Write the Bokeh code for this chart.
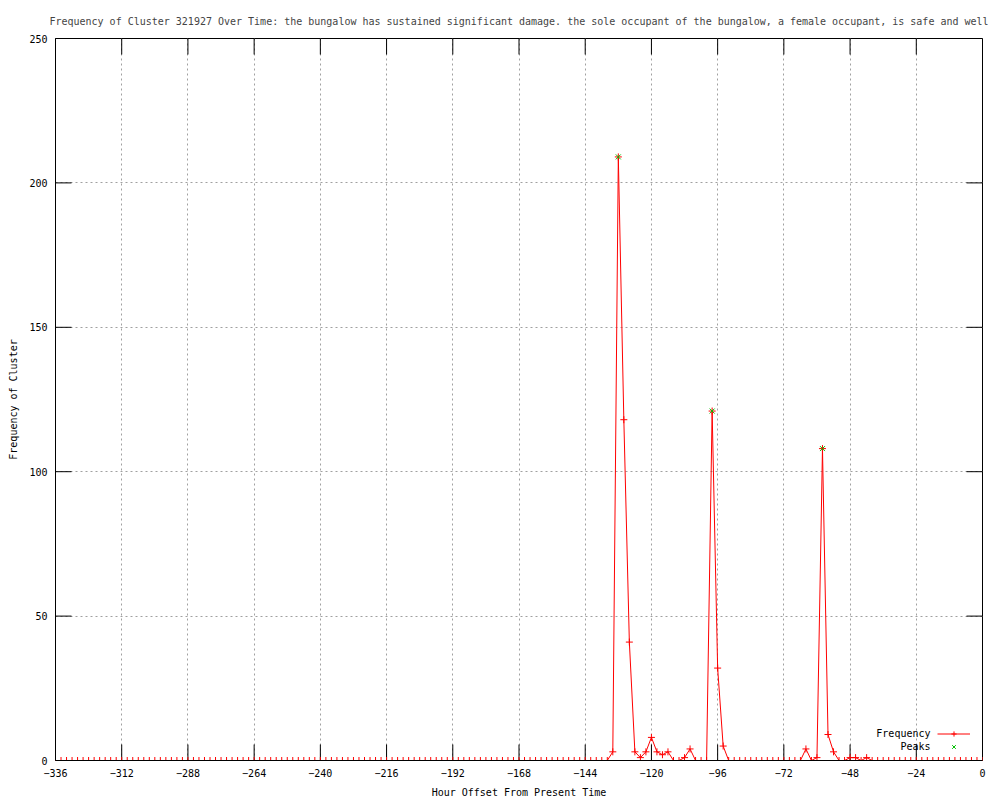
from bokeh.plotting import figure
from bokeh.models import FixedTicker, Legend, LegendItem, Label
from bokeh.embed import file_html
from bokeh.resources import INLINE

# ---- data ----
hours = list(range(-336, 2, 2))  # sampling grid: every 2 hours
freq = [
    0, 0, 0, 0, 0, 0, 0, 0, 0, 0, 0, 0,          # -336 .. -314
    0, 0, 0, 0, 0, 0, 0, 0, 0, 0, 0, 0,          # -312 .. -290
    0, 0, 0, 0, 0, 0, 0, 0, 0, 0, 0, 0,          # -288 .. -266
    0, 0, 0, 0, 0, 0, 0, 0, 0, 0, 0, 0,          # -264 .. -242
    0, 0, 0, 0, 0, 0, 0, 0, 0, 0, 0, 0,          # -240 .. -218
    0, 0, 0, 0, 0, 0, 0, 0, 0, 0, 0, 0,          # -216 .. -194
    0, 0, 0, 0, 0, 0, 0, 0, 0, 0, 0, 0,          # -192 .. -170
    0, 0, 0, 0, 0, 0, 0, 0, 0, 0, 0, 0,          # -168 .. -146
    0, 0, 0, 0, 0, 3, 209, 118, 41, 3, 1, 3,     # -144 .. -122
    8, 3, 2, 3, 0, 0, 1, 4, 0, 0, 0, 121,        # -120 .. -98
    32, 5, 0, 0, 0, 0, 0, 0, 0, 0, 0, 0,         # -96 .. -74
    0, 0, 0, 0, 4, 0, 1, 108, 9, 3, 0, 0,        # -72 .. -50
    1, 1, 0, 1, 0, 0, 0, 0, 0, 0, 0, 0,          # -48 .. -26
    0, 0, 0, 0, 0, 0, 0, 0, 0, 0, 0, 0,          # -24 .. -2
    0,                                           # 0
]
peak_hours = [-132, -98, -58]
peak_freq = [209, 121, 108]

x_ticks = [-336, -312, -288, -264, -240, -216, -192, -168, -144, -120, -96, -72, -48, -24, 0]
y_ticks = [0, 50, 100, 150, 200, 250]

title_text = ("Frequency of Cluster 321927 Over Time: the bungalow has sustained significant damage. "
              "the sole occupant of the bungalow, a female occupant, is safe and well")
legend_labels = ["Frequency", "Peaks"]

FONT = "DejaVu Sans Mono"
FS = "10px"
X0, X1 = -336, 0
Y0, Y1 = 0, 250
BL, BR, BT, BB = 55, 18, 38, 40
W, H = 1000, 800
FRAME_W = W - BL - BR
FRAME_H = H - BT - BB
TICK_PX = 16

p = figure(width=W, height=H, x_range=(X0, X1), y_range=(Y0, Y1),
           output_backend="svg", toolbar_location=None,
           min_border_left=BL, min_border_right=BR, min_border_top=BT, min_border_bottom=BB,
           x_axis_label="Hour Offset From Present Time", y_axis_label="Frequency of Cluster",
           title=title_text)

p.background_fill_color = "white"
p.border_fill_color = "white"
p.outline_line_color = "black"
p.outline_line_width = 1
p.outline_line_alpha = 1

p.title.text_font = FONT
p.title.text_font_size = FS
p.title.text_font_style = "normal"
p.title.align = "center"
p.title.standoff = 24

for ax, ticks in ((p.xaxis[0], x_ticks), (p.yaxis[0], y_ticks)):
    ax.ticker = FixedTicker(ticks=ticks)
    ax.major_tick_in = 0
    ax.major_tick_out = 0
    ax.minor_tick_line_color = None
    ax.major_tick_line_color = None
    ax.axis_line_color = "black"
    ax.major_label_text_font = FONT
    ax.major_label_text_font_size = FS
    ax.major_label_text_color = "black"
    ax.axis_label_text_font = FONT
    ax.axis_label_text_font_size = FS
    ax.axis_label_text_font_style = "normal"
    ax.axis_label_text_color = "black"

p.xaxis.major_label_standoff = 8
p.xaxis.axis_label_standoff = 7
p.yaxis.major_label_standoff = 8
p.yaxis.axis_label_standoff = 7

p.xgrid.ticker = FixedTicker(ticks=x_ticks)
p.ygrid.ticker = FixedTicker(ticks=y_ticks)
for g in (p.xgrid[0], p.ygrid[0]):
    g.grid_line_color = "#a0a0a0"
    g.grid_line_dash = "2 3"
    g.grid_line_width = 1

# inward tick marks on all four sides (gnuplot style), lengths converted from pixels
dy = TICK_PX * (Y1 - Y0) / FRAME_H
dx = TICK_PX * (X1 - X0) / FRAME_W
p.segment(x0=x_ticks, y0=[Y0] * len(x_ticks), x1=x_ticks, y1=[Y0 + dy] * len(x_ticks),
          line_color="black", line_width=1)
p.segment(x0=x_ticks, y0=[Y1] * len(x_ticks), x1=x_ticks, y1=[Y1 - dy] * len(x_ticks),
          line_color="black", line_width=1)
p.segment(x0=[X0] * len(y_ticks), y0=y_ticks, x1=[X0 + dx] * len(y_ticks), y1=y_ticks,
          line_color="black", line_width=1)
p.segment(x0=[X1] * len(y_ticks), y0=y_ticks, x1=[X1 - dx] * len(y_ticks), y1=y_ticks,
          line_color="black", line_width=1)

r_line = p.line(hours, freq, line_color="#ff0000", line_width=1)
r_pts = p.scatter(hours, freq, marker="cross", size=7, line_color="#ff0000", line_width=1)
r_peaks = p.scatter(peak_hours, peak_freq, marker="x", size=7, line_color="#00c000", line_width=1)

# gnuplot-style key: text right-aligned, sample to its right
legend = Legend(items=[LegendItem(label=" ", renderers=[r_line, r_pts]),
                       LegendItem(label=" ", renderers=[r_peaks])],
                location=(882, 7), glyph_width=33, glyph_height=13, label_height=13,
                spacing=0, padding=0, margin=0, label_standoff=0,
                label_text_font=FONT, label_text_font_size=FS,
                border_line_color=None, background_fill_alpha=0)
p.add_layout(legend)

for txt, yy in zip(legend_labels, [27, 14]):
    p.add_layout(Label(x=875, y=yy, x_units="screen", y_units="screen", text=txt,
                       text_align="right", text_baseline="middle",
                       text_font=FONT, text_font_size=FS, text_color="black"))

open("out.html", "w").write(file_html(p, INLINE))
